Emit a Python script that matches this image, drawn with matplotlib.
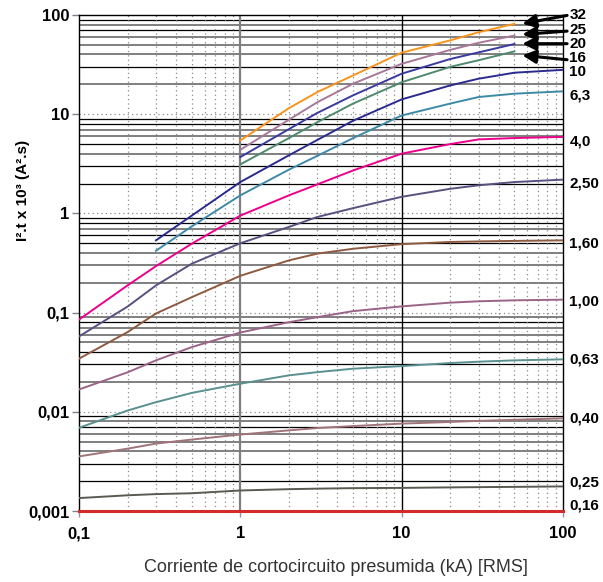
import matplotlib
matplotlib.use('Agg')
import matplotlib.pyplot as plt
import matplotlib.transforms as mtransforms

plt.rcParams['font.family'] = ['Liberation Sans', 'DejaVu Sans']

# --- DATA ---
x_full = [0.1, 0.2, 0.3, 0.5, 1, 2, 3, 5, 10, 20, 30, 50, 100]
x_mid = [0.3, 0.5, 1, 2, 3, 5, 10, 20, 30, 50, 100]
x_top = [1, 2, 3, 5, 10, 20, 30, 50]
x_flat = [0.1, 100]

i2t_32 = [5.44, 11.5, 16.7, 24.6, 41.7, 55.5, 67, 81.5]
i2t_25 = [4.38, 8.8, 13.2, 20.3, 32.2, 44.5, 52.5, 62]
i2t_20 = [3.7, 7.07, 10.3, 15.5, 25.6, 36, 42, 51]
i2t_16 = [3.12, 5.74, 8.3, 12.8, 21, 30, 35, 43]
i2t_10 = [0.535, 0.95, 2.07, 3.85, 5.5, 8.6, 14.1, 19.5, 22.8, 26.2, 28]
i2t_6_3 = [0.42, 0.74, 1.52, 2.76, 3.8, 5.74, 9.7, 12.8, 14.9, 16.1, 17]
i2t_4_0 = [0.085, 0.188, 0.294, 0.495, 0.95, 1.52, 1.96, 2.71, 4.0, 5.0, 5.57, 5.75, 5.9]
i2t_2_50 = [0.0575, 0.115, 0.188, 0.311, 0.50, 0.73, 0.92, 1.13, 1.47, 1.77, 1.92, 2.07, 2.19]
i2t_1_60 = [0.0343, 0.0636, 0.098, 0.143, 0.235, 0.336, 0.393, 0.44, 0.49, 0.515, 0.522, 0.528, 0.535]
i2t_1_00 = [0.0168, 0.025, 0.033, 0.0449, 0.063, 0.080, 0.090, 0.1035, 0.1155, 0.126, 0.13, 0.133, 0.135]
i2t_0_63 = [0.0069, 0.0103, 0.0125, 0.0155, 0.0192, 0.0233, 0.0251, 0.0272, 0.0289, 0.031, 0.032, 0.033, 0.0338]
i2t_0_40 = [0.00355, 0.00425, 0.00478, 0.00525, 0.0059, 0.0065, 0.00686, 0.00718, 0.0076, 0.0079, 0.0081, 0.0083, 0.0086]
i2t_0_25 = [0.00135, 0.00144, 0.00148, 0.00151, 0.00161, 0.00166, 0.00168, 0.0017, 0.00171, 0.00173, 0.00174, 0.00175, 0.00177]
i2t_0_16 = [0.001, 0.001]

rating_labels = ['32', '25', '20', '16', '10', '6,3', '4,0', '2,50', '1,60', '1,00', '0,63', '0,40', '0,25', '0,16']
label_y = [101, 70, 50.6, 36.5, 26.4, 15.5, 5.32, 2.0, 0.5, 0.13, 0.0337, 0.00858, 0.00194, 0.00114]

y_ticks = [0.001, 0.01, 0.1, 1, 10, 100]
y_ticklabels = ['0,001', '0,01', '0,1', '1', '10', '100']
x_ticks = [0.1, 1, 10, 100]
x_ticklabels = ['0,1', '1', '10', '100']

# arrows for the top four curves: (tip y, tail y)
arrow_tip_y = [81.7, 63.7, 51.4, 39.2]
arrow_tail_y = [99, 68.8, 51.4, 35.4]

# --- PLOT ---
fig = plt.figure(figsize=(6.03, 5.82), dpi=100)
ax = fig.add_axes([79 / 603, 1 - 511 / 582, 484 / 603, 496 / 582])
ax.set_xscale('log')
ax.set_yscale('log')
ax.set_xlim(0.1, 100)
ax.set_ylim(0.001, 100)

# horizontal grid: solid minor lines, black or grey per decade
grid_black = {
    0.001: [2, 3, 7, 9],
    0.01: [3, 4, 8],
    0.1: [5, 6, 8, 9],
    1: [2, 3, 5, 8, 9],
    10: [3, 7, 9],
}
for dec, blacks in grid_black.items():
    for m in range(2, 10):
        if m in blacks:
            ax.axhline(dec * m, color='black', lw=0.9, zorder=1)
        else:
            ax.axhline(dec * m, color='#7f7f7f', lw=1.4, zorder=1)
for dec in [0.01, 0.1, 1, 10]:
    ax.axhline(dec, color='#8a8a8a', lw=0.9, ls=(0, (1, 2.5)), zorder=1)

# vertical grid: dotted minor lines, solid at 1 and 10
for dec in [0.1, 1, 10]:
    for m in range(2, 10):
        ax.axvline(dec * m, color='#8a8a8a', lw=0.9, ls=(0, (1, 2.5)), zorder=1)
ax.axvline(1, color='#7f7f7f', lw=1.6, zorder=1)
ax.axvline(10, color='black', lw=1.0, zorder=1)

# curves
lw = 1.4
ax.plot(x_top, i2t_32, color='#F7941D', lw=lw, zorder=3)
ax.plot(x_top, i2t_25, color='#A8789A', lw=lw, zorder=3)
ax.plot(x_top, i2t_20, color='#3A3AA0', lw=lw, zorder=3)
ax.plot(x_top, i2t_16, color='#4E8A6E', lw=lw, zorder=3)
ax.plot(x_mid, i2t_10, color='#2B2B8F', lw=lw, zorder=3)
ax.plot(x_mid, i2t_6_3, color='#3E8AA6', lw=lw, zorder=3)
ax.plot(x_full, i2t_4_0, color='#EC008C', lw=lw, zorder=3)
ax.plot(x_full, i2t_2_50, color='#5A5080', lw=lw, zorder=3)
ax.plot(x_full, i2t_1_60, color='#8E5A40', lw=lw, zorder=3)
ax.plot(x_full, i2t_1_00, color='#9A6488', lw=lw, zorder=3)
ax.plot(x_full, i2t_0_63, color='#5A9090', lw=lw, zorder=3)
ax.plot(x_full, i2t_0_40, color='#A07478', lw=lw, zorder=3)
ax.plot(x_full, i2t_0_25, color='#5A5A52', lw=lw, zorder=3)
ax.plot(x_flat, i2t_0_16, color='#D42A2A', lw=2.2, zorder=4, clip_on=False)

# arrows pointing at the ends of the top curves
for tip, tail in zip(arrow_tip_y, arrow_tail_y):
    ax.annotate('', xy=(56, tip), xytext=(106, tail),
                arrowprops=dict(arrowstyle='-|>', color='black', lw=2.2,
                                mutation_scale=20, shrinkA=0, shrinkB=0),
                annotation_clip=False, zorder=5)

# rating labels on the right
trans = mtransforms.blended_transform_factory(ax.transAxes, ax.transData)
for lab, yv in zip(rating_labels, label_y):
    ax.text(1.013, yv, lab, transform=trans, ha='left', va='center',
            fontsize=11, fontweight='bold', clip_on=False)

# axes styling
for side in ['left', 'top', 'right']:
    ax.spines[side].set_color('black')
    ax.spines[side].set_linewidth(1.0)
ax.spines['bottom'].set_color('#D42A2A')

ax.set_xticks(x_ticks)
ax.set_xticklabels(x_ticklabels, fontsize=12, fontweight='bold')
ax.set_yticks(y_ticks)
ax.set_yticklabels(y_ticklabels, fontsize=12, fontweight='bold')
ax.minorticks_off()
ax.tick_params(axis='y', length=5, width=1, color='#808090', pad=2)
ax.tick_params(axis='x', length=4, width=1, color='#9090b0', pad=7)

ax.set_ylabel('I².t x 10³ (A².s)', fontsize=11, fontweight='bold')
ax.yaxis.set_label_coords(-0.101, 0.647)
ax.set_xlabel('Corriente de cortocircuito presumida (kA) [RMS]', fontsize=13, color='#333333')
ax.xaxis.set_label_coords(0.531, -0.097)

plt.savefig('out.png', dpi=100)
